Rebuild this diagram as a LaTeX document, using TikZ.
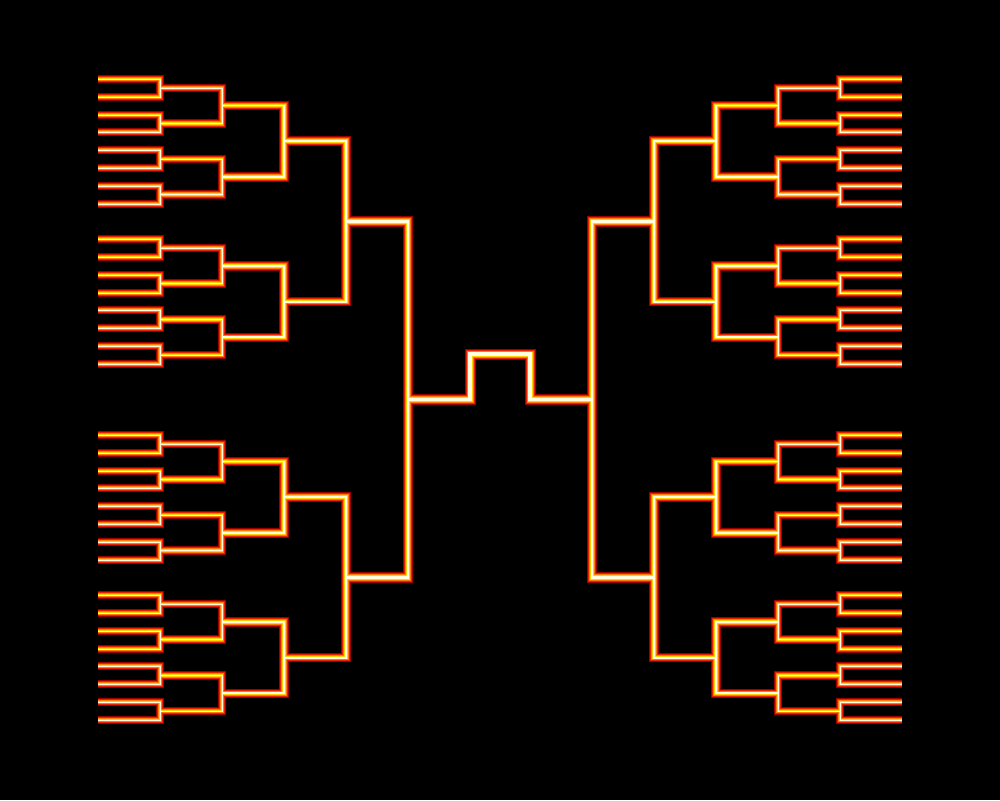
\documentclass[tikz,border=0pt]{standalone}
\usepackage{tikz}

\definecolor{glowdark}{HTML}{9A0000}
\definecolor{glowred}{HTML}{E82000}
\definecolor{gloworange}{HTML}{FF7A00}
\definecolor{glowyellow}{HTML}{FFD400}
\definecolor{glowcore}{HTML}{FFFFE0}

% one pass of the whole bracket, #1 = layer style
\newcommand\bracketpass[1]{%
    \foreach \s in {-1,1}{
        \foreach \r in {0,...,4}{
            \pgfmathtruncatemacro\nm{16/2^\r-1}
            \pgfmathsetmacro\w{2+0.6*\r}
            \pgfmathsetmacro\xa{500+\s*(402-62*\r)}
            \pgfmathsetmacro\xb{500+\s*(340-62*\r)}
            \foreach \m in {0,...,\nm}{
                \draw[#1=\w] (\xa,{ye(\r,2*\m)}) -| (\xb,{ye(\r,2*\m+1)}) -- (\xa,{ye(\r,2*\m+1)});
            }
        }
    }
    \draw[#1=5] (408,{ye(5,0)}) -- (470,{ye(5,0)}) |- (530,354) |- (592,{ye(5,0)});
}

\begin{document}
\begin{tikzpicture}[x=1pt, y=-1pt,
    declare function={sl(\k)=\k+floor(\k/8)+2*floor(\k/16);
                      ye(\a,\b)=79+17.8*(sl(\b*2^\a)+sl((\b+1)*2^\a-1))/2;},
    halo/.style={draw=glowdark, line width=#1*1pt+6pt},
    redglow/.style={draw=glowred, line width=#1*1pt+4pt},
    orangeglow/.style={draw=gloworange, line width=#1*1pt+2pt},
    yellowglow/.style={draw=glowyellow, line width=#1*1pt},
    coreglow/.style={draw=glowcore, line width=#1*1pt-1.8pt}]
    \fill[black] (0,0) rectangle (1000,800);
    \useasboundingbox (0,0) rectangle (1000,800);
    \bracketpass{halo}
    \bracketpass{redglow}
    \bracketpass{orangeglow}
    \bracketpass{yellowglow}
    \bracketpass{coreglow}
\end{tikzpicture}
\end{document}
